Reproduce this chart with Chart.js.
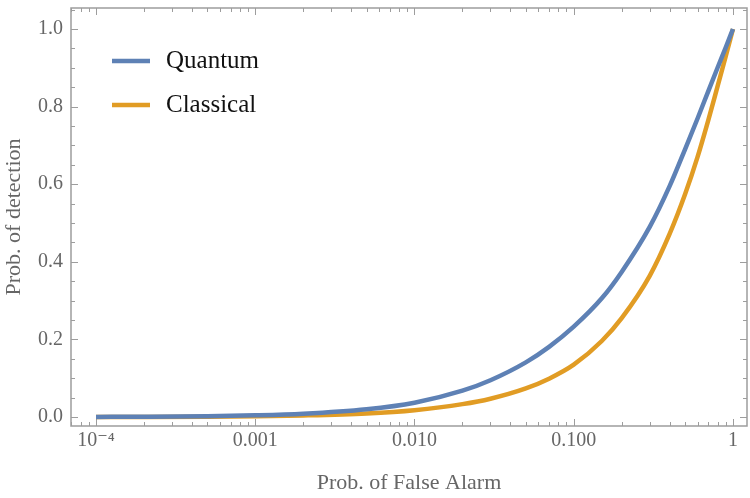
<!DOCTYPE html>
<html>
<head>
<meta charset="utf-8">
<script src="https://cdn.jsdelivr.net/npm/chart.js@4.4.1/dist/chart.umd.min.js"></script>
<style>
  html, body { margin: 0; padding: 0; background: #fff; }
  #wrap { width: 750px; height: 498px; }
</style>
</head>
<body>
<div id="wrap"><canvas id="roc"></canvas></div>
<script>
// ROC curve values
const pfa = [1e-4, 2e-4, 5e-4, 0.001, 0.002, 0.005, 0.01, 0.02, 0.03, 0.05, 0.07,
             0.1, 0.15, 0.2, 0.3, 0.4, 0.5, 0.6, 0.7, 0.8, 0.9, 1];
const quantum = [0.0005, 0.001, 0.0023, 0.0044, 0.0085, 0.020, 0.037, 0.068, 0.095, 0.141, 0.181,
                 0.233, 0.306, 0.374, 0.490, 0.595, 0.690, 0.770, 0.840, 0.900, 0.952, 1.0];
const classical = [0.00025, 0.00047, 0.00115, 0.0022, 0.0042, 0.0094, 0.0178, 0.0333, 0.0473, 0.0738, 0.0989,
                   0.135, 0.196, 0.255, 0.364, 0.472, 0.574, 0.671, 0.765, 0.852, 0.929, 1.0];

const xTickValues = [1e-4, 1e-3, 1e-2, 1e-1, 1];
const xTickLabels = ['10\u207B\u2074', '0.001', '0.010', '0.100', '1'];
const yTickValues = [0, 0.2, 0.4, 0.6, 0.8, 1.0];
const yTickLabels = ['0.0', '0.2', '0.4', '0.6', '0.8', '1.0'];

const seriesNames = ['Quantum', 'Classical'];
const seriesColors = ['#5e81b5', '#e19c24'];

const serif = "'Liberation Serif', 'DejaVu Serif', serif";
const frameColor = '#9d9d9d';
const labelColor = '#666666';

// frame with inward ticks on all four sides (Mathematica style)
const framePlugin = {
  id: 'frame',
  beforeDatasetsDraw(chart) {
    const { ctx, chartArea: a, scales: { x, y } } = chart;
    ctx.save();
    ctx.strokeStyle = frameColor;
    ctx.lineWidth = 1;

    const xMinor = [];
    for (let e = -5; e <= 0; e++) {
      for (let m = 2; m <= 9; m++) xMinor.push(m * Math.pow(10, e));
    }
    const yMinor = [];
    for (let v = -0.05; v <= 1.06; v += 0.05) yMinor.push(Math.round(v * 100) / 100);

    ctx.beginPath();
    xMinor.concat(xTickValues).forEach(v => {
      if (v < x.min || v > x.max) return;
      const len = xTickValues.includes(v) ? 7 : 4;
      const px = Math.round(x.getPixelForValue(v)) + 0.5;
      ctx.moveTo(px, a.bottom); ctx.lineTo(px, a.bottom - len);
      ctx.moveTo(px, a.top); ctx.lineTo(px, a.top + len);
    });
    yMinor.forEach(v => {
      if (v < y.min || v > y.max) return;
      const major = Math.abs(v * 5 - Math.round(v * 5)) < 1e-6;
      const len = major ? 7 : 4;
      const py = Math.round(y.getPixelForValue(v)) + 0.5;
      ctx.moveTo(a.left, py); ctx.lineTo(a.left + len, py);
      ctx.moveTo(a.right, py); ctx.lineTo(a.right - len, py);
    });
    ctx.stroke();

    ctx.lineWidth = 1.5;
    ctx.strokeRect(a.left, a.top, a.right - a.left, a.bottom - a.top);
    ctx.restore();
  },
  afterDatasetsDraw(chart) {
    // legend inside the plot, top left
    const { ctx, chartArea: a } = chart;
    ctx.save();
    ctx.font = '25px ' + serif;
    ctx.textBaseline = 'middle';
    chart.data.datasets.forEach((ds, i) => {
      const yy = a.top + 53 + i * 44;
      ctx.strokeStyle = ds.borderColor;
      ctx.lineWidth = 4.5;
      ctx.beginPath();
      ctx.moveTo(a.left + 41, yy);
      ctx.lineTo(a.left + 79, yy);
      ctx.stroke();
      ctx.fillStyle = '#111';
      ctx.fillText(ds.label, a.left + 95, yy);
    });
    ctx.restore();
  }
};

const ctx = document.getElementById('roc').getContext('2d');
new Chart(ctx, {
  type: 'line',
  data: {
    datasets: [quantum, classical].map((vals, i) => ({
      label: seriesNames[i],
      data: pfa.map((p, k) => ({ x: p, y: vals[k] })),
      borderColor: seriesColors[i],
      borderWidth: 4.5,
      pointRadius: 0,
      cubicInterpolationMode: 'monotone',
      fill: false
    }))
  },
  options: {
    responsive: true,
    maintainAspectRatio: false,
    animation: false,
    layout: { padding: { top: 8, right: 3, left: 0, bottom: 0 } },
    plugins: {
      legend: { display: false },
      tooltip: { enabled: false }
    },
    scales: {
      x: {
        type: 'logarithmic',
        min: Math.pow(10, -4.157),
        max: Math.pow(10, 0.088),
        grid: { display: false, drawTicks: false },
        border: { display: false },
        afterBuildTicks: (scale) => { scale.ticks = xTickValues.map(v => ({ value: v })); },
        afterFit: (scale) => {
          scale.height = 72;
          scale.paddingLeft = 0;
          scale.paddingRight = 0;
        },
        ticks: {
          autoSkip: false,
          maxRotation: 0,
          padding: 3,
          color: labelColor,
          font: { family: serif, size: 20 },
          callback: (value, index) => xTickLabels[index]
        },
        title: {
          display: true,
          text: 'Prob. of False Alarm',
          color: labelColor,
          font: { family: serif, size: 22 },
          padding: { top: 0, bottom: 2 }
        }
      },
      y: {
        min: -0.023,
        max: 1.054,
        grid: { display: false, drawTicks: false },
        border: { display: false },
        afterBuildTicks: (scale) => { scale.ticks = yTickValues.map(v => ({ value: v })); },
        afterFit: (scale) => {
          scale.width = 71;
          scale.paddingTop = 0;
          scale.paddingBottom = 0;
        },
        ticks: {
          padding: 8,
          color: labelColor,
          font: { family: serif, size: 20 },
          callback: (value, index) => yTickLabels[index]
        },
        title: {
          display: true,
          text: 'Prob. of detection',
          color: labelColor,
          font: { family: serif, size: 22 },
          padding: { top: 1, bottom: 0 }
        }
      }
    }
  },
  plugins: [framePlugin]
});
</script>
</body>
</html>
